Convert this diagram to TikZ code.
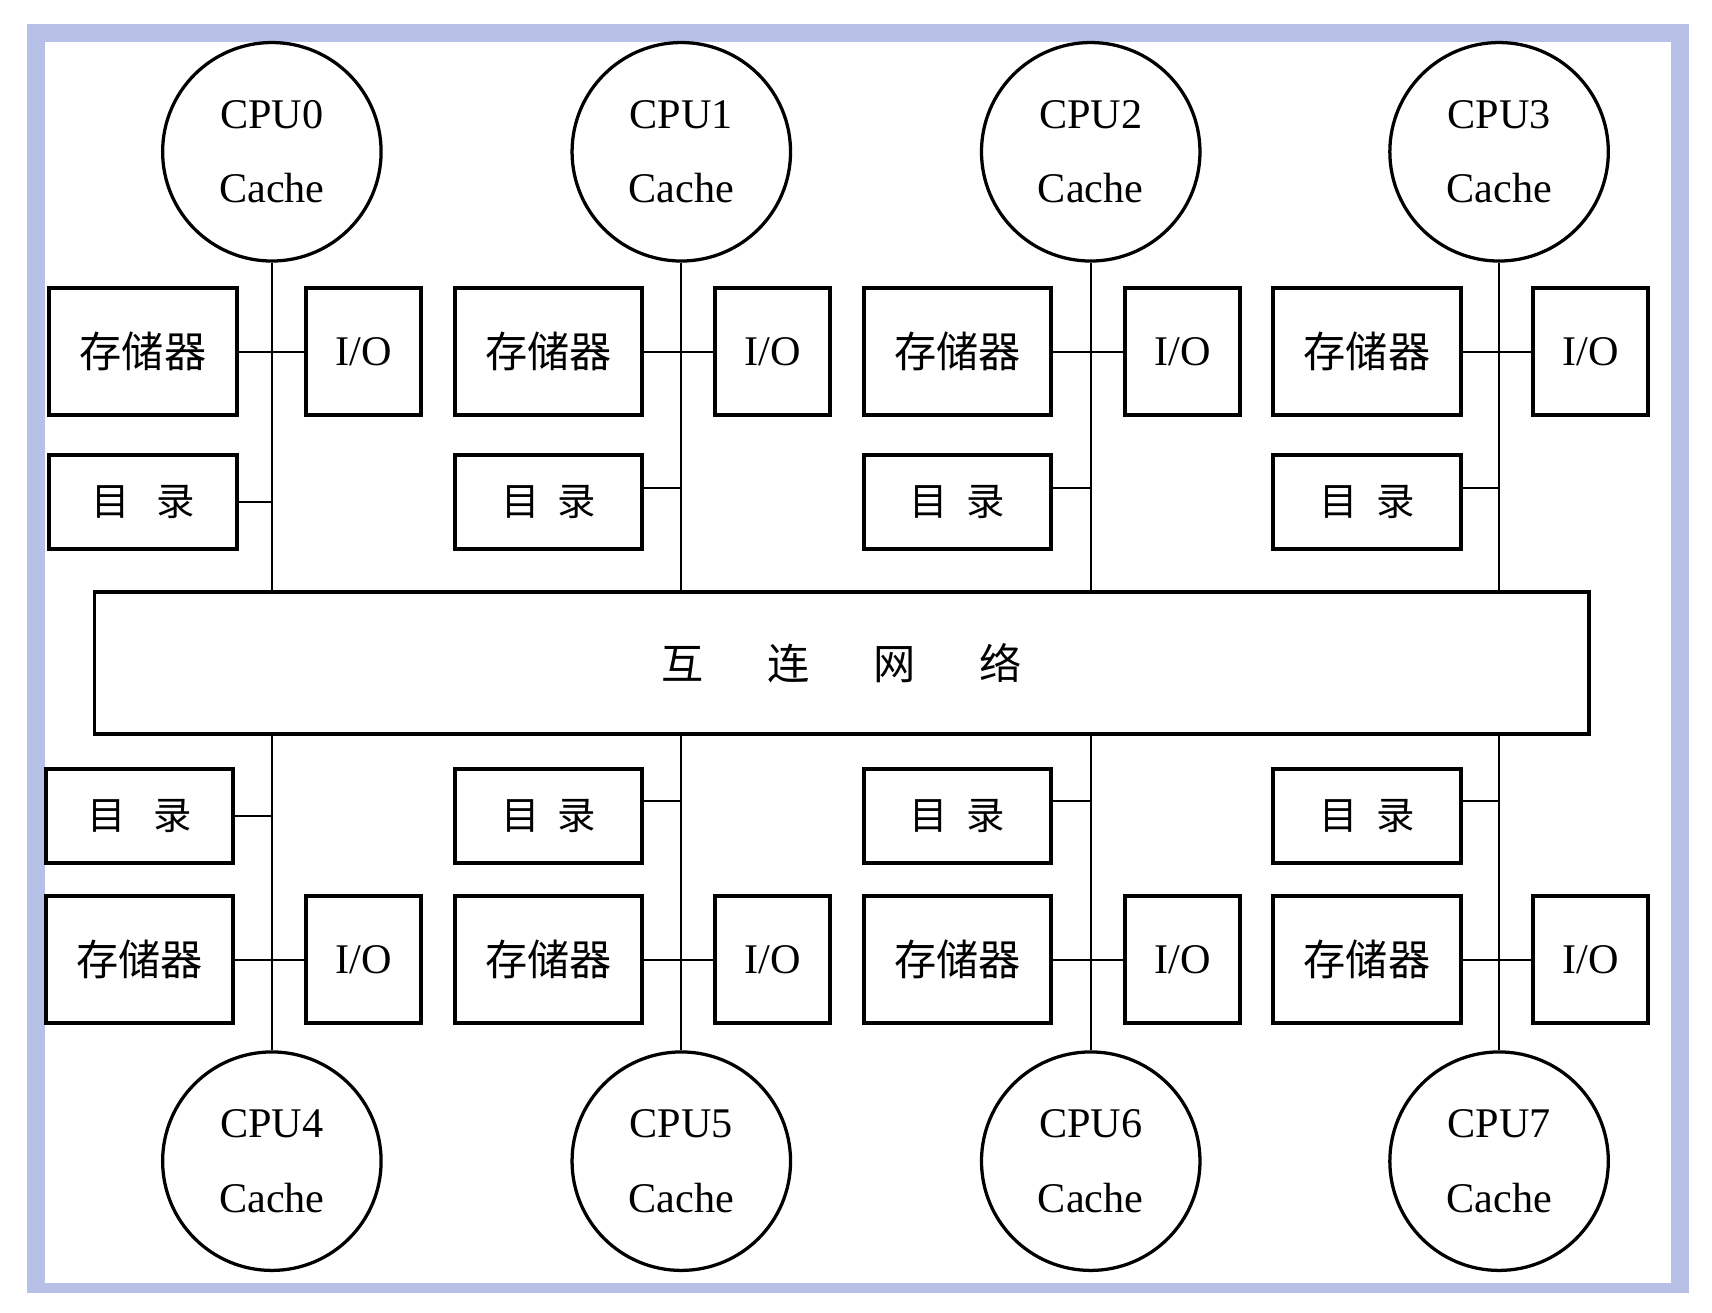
\documentclass[tikz,border=0pt]{standalone}
\usepackage{fontspec}
\setmainfont{Liberation Serif}
\newfontfamily\cjk{Noto Sans CJK SC}
\definecolor{framebl}{RGB}{183,192,230}
\begin{document}
\begin{tikzpicture}[x=0.01cm,y=-0.01cm,
  cpu/.style={circle,draw,line width=0.85pt,minimum size=2cm,inner sep=0pt,align=center,font=\fontsize{11}{19.4}\selectfont},
  blk/.style={draw,line width=1.05pt,inner sep=0pt,rectangle},
  membox/.style={blk,minimum width=1.715cm,minimum height=1.16cm,font=\cjk\fontsize{11}{13}\selectfont},
  iobox/.style={blk,minimum width=1.05cm,minimum height=1.16cm,font=\fontsize{11}{13}\selectfont},
  dirbox/.style={blk,minimum width=1.715cm,minimum height=0.86cm,font=\cjk\fontsize{10}{12}\selectfont},
  netbox/.style={blk,line width=0.95pt,minimum width=13.68cm,minimum height=1.30cm,font=\cjk\fontsize{11}{13}\selectfont},
  wire/.style={line width=0.55pt}]
\useasboundingbox (0,0) rectangle (1568,1202);
\fill[framebl] (25,22) rectangle (1547,1184);
\fill[white] (41,38) rectangle (1530,1175);
\node[netbox] (net) at (771,607) {互\hspace{16.6pt}连\hspace{16.6pt}网\hspace{16.6pt}络};
\foreach \i/\j/\x/\m/\mb/\o/\dy/\sp in {0/4/249/131/128/333/0/7.1pt, 1/5/624/502.5/502.5/707.5/0.13/4.8pt, 2/6/999/877/877/1083/0.13/4.8pt, 3/7/1373/1252/1252/1457/0.13/4.8pt}{
  \node[cpu] (cpu\i) at (\x,139) {CPU\i\\Cache};
  \node[cpu] (cpu\j) at (\x,1063.5) {CPU\j\\Cache};
  \node[membox] (memt\i) at (\m,322) {存储器};
  \node[iobox] (iot\i) at (\o,322) {I/O};
  \node[dirbox] (dirt\i) at (\m,460) {目\hspace{\sp}录};
  \node[dirbox] (dirb\i) at (\mb,747) {目\hspace{\sp}录};
  \node[membox] (memb\i) at (\mb,879) {存储器};
  \node[iobox] (iob\i) at (\o,879) {I/O};
  \draw[wire] (cpu\i.south) -- (cpu\i |- net.north);
  \draw[wire] (cpu\j.north) -- (cpu\j |- net.south);
  \draw[wire] (memt\i.east) -- (iot\i.west);
  \draw[wire] (memb\i.east) -- (iob\i.west);
  \draw[wire] ([yshift=\dy cm]dirt\i.east) -- ([yshift=\dy cm]dirt\i.east -| cpu\i);
  \draw[wire] ([yshift=\dy cm]dirb\i.east) -- ([yshift=\dy cm]dirb\i.east -| cpu\j);
}
\end{tikzpicture}
\end{document}
